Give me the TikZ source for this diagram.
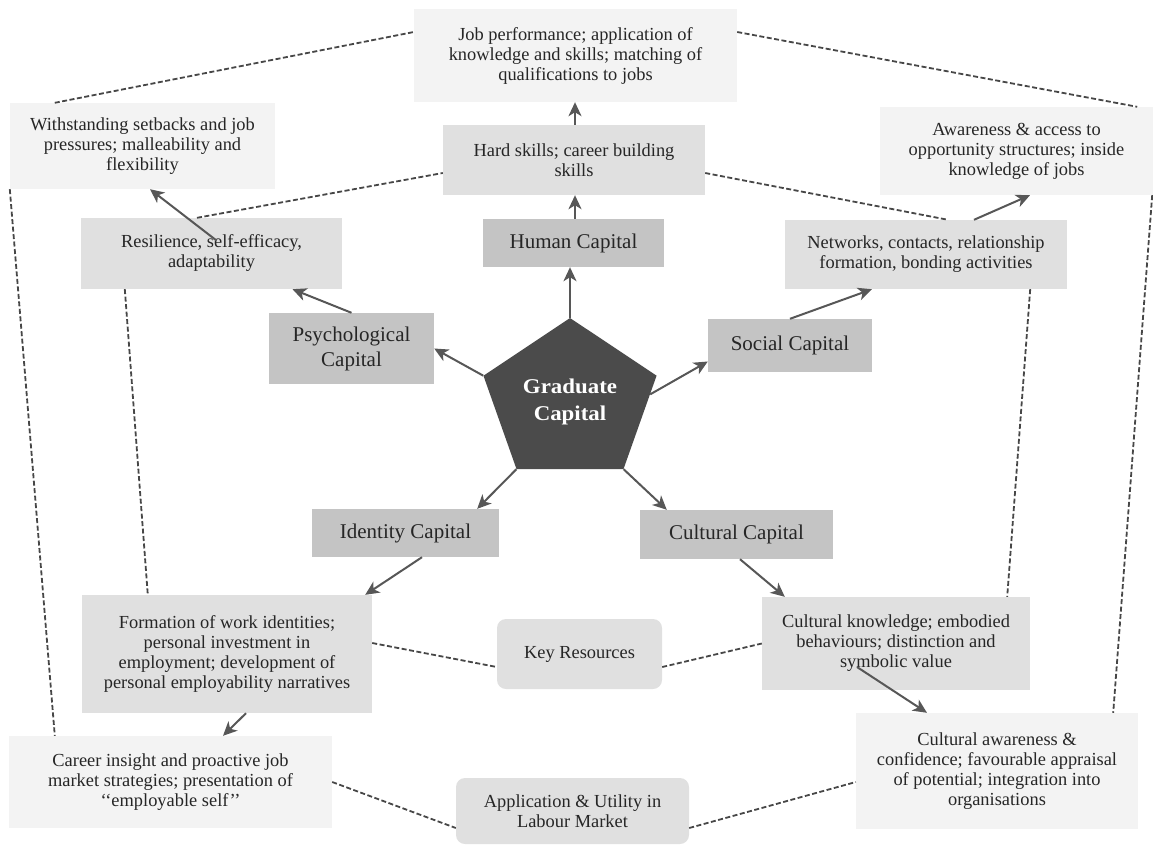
\documentclass[tikz,border=0pt]{standalone}
\usepackage{fontspec}
\setmainfont{Liberation Serif}
\usetikzlibrary{shapes.geometric,arrows.meta,calc}
\definecolor{boxlight}{HTML}{F3F3F3}
\definecolor{boxmid}{HTML}{E0E0E0}
\definecolor{boxdark}{HTML}{C4C4C4}
\definecolor{hubfill}{HTML}{4B4B4B}
\definecolor{ink}{HTML}{262626}
\definecolor{arrowgray}{HTML}{575757}
\begin{document}
\begin{tikzpicture}[x=1pt,y=-1pt,
  txt/.style={align=center,text=ink,inner sep=0pt,font=\fontsize{18.4}{20}\selectfont},
  light/.style={txt,fill=boxlight},
  mid/.style={txt,fill=boxmid},
  capbox/.style={txt,fill=boxdark,font=\fontsize{21}{25}\selectfont},
  hub/.style={mid,rounded corners=9pt},
  arr/.style={draw=arrowgray,line width=2pt,-{Stealth[length=14pt,width=13pt,inset=4pt]}},
  link/.style={draw=ink!85,line width=1.8pt,dash pattern=on 5pt off 2.5pt},
]
\useasboundingbox (0,0) rectangle (1153,844);

% OUTER BOXES
\node[light,minimum width=323pt,minimum height=93pt] (job) at (575.5,55.5)
  {Job performance; application of\\knowledge and skills; matching of\\qualifications to jobs};
\node[light,minimum width=265pt,minimum height=86pt] (ws) at (142.5,146)
  {Withstanding setbacks and job\\pressures; malleability and\\flexibility};
\node[light,minimum width=273pt,minimum height=88pt] (aw) at (1016.5,151)
  {Awareness \& access to\\opportunity structures; inside\\knowledge of jobs};
\node[light,minimum width=323pt,minimum height=92pt] (car) at (170.5,782)
  {Career insight and proactive job\\market strategies; presentation of\\‘{}‘employable self’{}’};
\node[light,minimum width=282pt,minimum height=116pt] (caw) at (997,771)
  {Cultural awareness \&\\confidence; favourable appraisal\\of potential; integration into\\organisations};

% RESOURCE BOXES
\node[mid,minimum width=262pt,minimum height=70pt] (hard) at (574,160)
  {Hard skills; career building\\skills};
\node[mid,minimum width=261pt,minimum height=71pt] (res) at (211.5,253.5)
  {Resilience, self-efficacy,\\adaptability};
\node[mid,minimum width=282pt,minimum height=69pt] (net) at (926,254.5)
  {Networks, contacts, relationship\\formation, bonding activities};
\node[mid,minimum width=290pt,minimum height=118pt] (form) at (227,654)
  {Formation of work identities;\\personal investment in\\employment; development of\\personal employability narratives};
\node[mid,minimum width=268pt,minimum height=93pt] (ckn) at (896,643.5)
  {Cultural knowledge; embodied\\behaviours; distinction and\\symbolic value};

% CAPITALS
\node[capbox,minimum width=181pt,minimum height=48pt] (human) at (573.5,243) {Human Capital};
\node[capbox,minimum width=165pt,minimum height=71pt] (psy) at (351.5,348.5) {Psychological\\Capital};
\node[capbox,minimum width=164pt,minimum height=53pt] (soc) at (790,345.5) {Social Capital};
\node[capbox,minimum width=187pt,minimum height=48pt] (idc) at (405.5,533) {Identity Capital};
\node[capbox,minimum width=193pt,minimum height=49pt] (cul) at (736.5,534.5) {Cultural Capital};

\node[regular polygon,regular polygon sides=5,minimum size=167pt,inner sep=0pt,
  fill=hubfill,xscale=1.09,text=white,align=center,
  font=\bfseries\fontsize{21}{27}\selectfont] (gc) at (570,401.5) {Graduate\\Capital};

% KEY LABELS
\node[hub,minimum width=165pt,minimum height=70pt] (key) at (579.5,654) {Key Resources};
\node[hub,minimum width=233pt,minimum height=66pt] (app) at (572.5,811)
  {Application \& Utility in\\Labour Market};

% ARROWS
\draw[arr] (gc.corner 1) -- (gc.corner 1 |- human.south);
\draw[arr] ([xshift=1.5pt]human.north) -- ([xshift=1.5pt]human.north |- hard.south);
\draw[arr] ([xshift=1pt]hard.north) -- ([xshift=1pt]hard.north |- job.south);
\draw[arr] (gc.corner 2) -- (psy.east);
\draw[arr] (psy.north) -- ([xshift=81pt]res.south);
\draw[arr] ([xshift=5pt,yshift=13pt]res.center) -- ([xshift=7.5pt]ws.south);
\draw[arr] ($(gc.corner 5)!0.2!(gc.corner 4)$) -- ([yshift=-16pt]soc.west);
\draw[arr] (soc.north) -- ([xshift=-54pt]net.south);
\draw[arr] ([xshift=48pt]net.north) -- ([xshift=13.5pt]aw.south);
\draw[arr] (gc.corner 3) -- ([xshift=-22pt]idc.north east);
\draw[arr] (gc.corner 4) -- ([xshift=27pt]cul.north west);
\draw[arr] ([xshift=16.5pt]idc.south) -- ([xshift=-7pt]form.north east);
\draw[arr] ([xshift=3.5pt]cul.south) -- ([xshift=23pt]ckn.north west);
\draw[arr] ([xshift=-39pt,yshift=-23.5pt]ckn.center) -- ([xshift=-70pt]caw.north);
\draw[arr] ([xshift=19pt]form.south) -- ([xshift=52.5pt]car.north);

% DASHED LINKS
\draw[link] ([xshift=45pt]ws.north west) -- ([yshift=23.5pt]job.west);
\draw[link] ([yshift=23.5pt]job.east) -- ([xshift=-16pt]aw.north east);
\draw[link] ([xshift=-14.5pt]res.north) -- ([yshift=-13pt]hard.west);
\draw[link] ([yshift=-13pt]hard.east) -- ([xshift=22pt]net.north);
\draw[link] (ws.south west) -- ([xshift=46pt]car.north west);
\draw[link] ([xshift=44pt]res.south west) -- ([xshift=66pt]form.north west);
\draw[link] ([xshift=-1pt]aw.south east) -- ([xshift=-25pt]caw.north east);
\draw[link] ([xshift=-37pt]net.south east) -- ([xshift=-23pt]ckn.north east);
\draw[link] ([yshift=11pt]form.east) -- ([yshift=-13pt]key.west);
\draw[link] ([yshift=-13pt]key.east) -- (ckn.west);
\draw[link] (car.east) -- ([yshift=-17pt]app.west);
\draw[link] ([yshift=-17pt]app.east) -- ([yshift=-11pt]caw.west);

\end{tikzpicture}
\end{document}
